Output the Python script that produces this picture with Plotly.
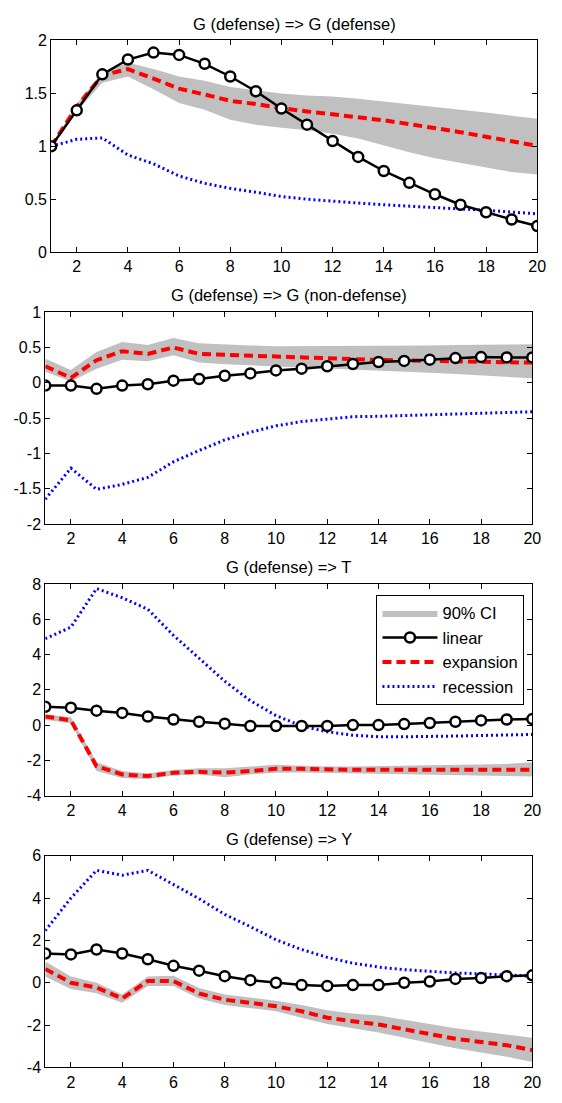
import plotly.graph_objects as go

W, H = 562, 1103
horizon = list(range(1, 21))

titles = ["G (defense) => G (defense)", "G (defense) => G (non-defense)",
          "G (defense) => T", "G (defense) => Y"]

# Panel 1: G (defense) => G (defense)
p1_linear = [1.0, 1.34, 1.68, 1.82, 1.886, 1.864, 1.78, 1.66, 1.52, 1.357,
             1.205, 1.05, 0.90, 0.767, 0.655, 0.547, 0.448, 0.377, 0.309, 0.247]
p1_expansion = [1.0, 1.375, 1.67, 1.73, 1.64, 1.545, 1.49, 1.43, 1.40, 1.36,
                1.33, 1.305, 1.277, 1.246, 1.21, 1.175, 1.134, 1.09, 1.05, 1.005]
p1_upper = [1.0, 1.40, 1.70, 1.79, 1.73, 1.66, 1.62, 1.56, 1.53, 1.50,
            1.48, 1.47, 1.45, 1.425, 1.40, 1.375, 1.345, 1.32, 1.29, 1.26]
p1_lower = [1.0, 1.33, 1.60, 1.66, 1.54, 1.41, 1.345, 1.25, 1.205, 1.175,
            1.153, 1.12, 1.073, 1.005, 0.943, 0.887, 0.844, 0.80, 0.757, 0.733]
p1_recession = [1.0, 1.066, 1.08, 0.918, 0.835, 0.72, 0.65, 0.603, 0.566, 0.526,
                0.50, 0.48, 0.464, 0.448, 0.433, 0.417, 0.408, 0.396, 0.38, 0.362]

# Panel 2: G (defense) => G (non-defense)
p2_linear = [-0.04, -0.04, -0.085, -0.04, -0.02, 0.03, 0.054, 0.10, 0.133, 0.175,
             0.20, 0.235, 0.267, 0.295, 0.31, 0.328, 0.35, 0.365, 0.36, 0.36]
p2_expansion = [0.235, 0.07, 0.32, 0.448, 0.41, 0.50, 0.41, 0.397, 0.39, 0.375,
                0.355, 0.34, 0.333, 0.323, 0.318, 0.314, 0.305, 0.30, 0.295, 0.286]
p2_upper = [0.34, 0.18, 0.435, 0.58, 0.536, 0.634, 0.56, 0.54, 0.53, 0.517,
            0.517, 0.517, 0.517, 0.52, 0.52, 0.527, 0.536, 0.54, 0.545, 0.546]
p2_lower = [0.156, 0.017, 0.20, 0.328, 0.305, 0.39, 0.286, 0.263, 0.25, 0.235,
            0.216, 0.203, 0.19, 0.17, 0.156, 0.142, 0.124, 0.105, 0.087, 0.064]
p2_recession = [-1.65, -1.21, -1.51, -1.44, -1.34, -1.12, -0.96, -0.81, -0.70, -0.61,
                -0.55, -0.51, -0.48, -0.475, -0.465, -0.455, -0.447, -0.437, -0.425, -0.41]

# Panel 3: G (defense) => T
p3_linear = [1.04, 0.99, 0.82, 0.69, 0.49, 0.32, 0.19, 0.08, -0.05, -0.05,
             -0.05, -0.05, 0.0, 0.0, 0.06, 0.12, 0.19, 0.265, 0.32, 0.34]
p3_expansion = [0.49, 0.27, -2.33, -2.80, -2.89, -2.70, -2.65, -2.70, -2.60, -2.48,
                -2.48, -2.52, -2.53, -2.53, -2.53, -2.53, -2.53, -2.53, -2.53, -2.53]
p3_upper = [0.6, 0.45, -2.1, -2.6, -2.75, -2.55, -2.45, -2.45, -2.35, -2.25,
            -2.3, -2.35, -2.35, -2.33, -2.3, -2.3, -2.25, -2.22, -2.2, -2.1]
p3_lower = [0.3, 0.1, -2.6, -3.0, -3.05, -2.85, -2.8, -2.95, -2.8, -2.7,
            -2.68, -2.7, -2.72, -2.75, -2.78, -2.8, -2.82, -2.85, -2.88, -2.92]
p3_recession = [4.9, 5.55, 7.74, 7.22, 6.57, 5.09, 3.79, 2.49, 1.38, 0.54,
                -0.05, -0.38, -0.57, -0.66, -0.66, -0.66, -0.62, -0.59, -0.55, -0.53]

# Panel 4: G (defense) => Y
p4_linear = [1.38, 1.34, 1.57, 1.38, 1.11, 0.80, 0.57, 0.31, 0.12, 0.0,
             -0.11, -0.15, -0.11, -0.11, 0.0, 0.06, 0.18, 0.22, 0.31, 0.35]
p4_expansion = [0.65, 0.0, -0.23, -0.74, 0.08, 0.08, -0.51, -0.80, -0.95, -1.11,
                -1.35, -1.65, -1.82, -1.97, -2.20, -2.43, -2.65, -2.80, -2.95, -3.18]
p4_upper = [1.0, 0.3, 0.0, -0.55, 0.3, 0.33, -0.25, -0.55, -0.7, -0.85,
            -1.05, -1.3, -1.45, -1.55, -1.75, -1.95, -2.15, -2.3, -2.45, -2.6]
p4_lower = [0.3, -0.3, -0.5, -0.95, -0.15, -0.15, -0.75, -1.05, -1.2, -1.35,
            -1.65, -1.95, -2.15, -2.35, -2.6, -2.85, -3.1, -3.3, -3.5, -3.75]
p4_recession = [2.46, 4.0, 5.31, 5.08, 5.31, 4.62, 3.97, 3.23, 2.65, 2.03,
                1.57, 1.2, 0.92, 0.74, 0.62, 0.54, 0.46, 0.42, 0.35, 0.31]

x_ticks = [2, 4, 6, 8, 10, 12, 14, 16, 18, 20]
y_ticks = [[0, 0.5, 1, 1.5, 2],
           [-2, -1.5, -1, -0.5, 0, 0.5, 1],
           [-4, -2, 0, 2, 4, 6, 8],
           [-4, -2, 0, 2, 4, 6]]
y_ranges = [[0, 2], [-2, 1], [-4, 8], [-4, 6]]

panels = [
    (p1_linear, p1_expansion, p1_upper, p1_lower, p1_recession),
    (p2_linear, p2_expansion, p2_upper, p2_lower, p2_recession),
    (p3_linear, p3_expansion, p3_upper, p3_lower, p3_recession),
    (p4_linear, p4_expansion, p4_upper, p4_lower, p4_recession),
]

# layout geometry (pixels)
x_left = [52, 46, 46, 46]
x_right = [546, 541, 541, 541]
y_top = [33, 309, 585, 861]
panel_h = 215

FONT = "Liberation Sans, Arial, sans-serif"
fig = go.Figure()

for i, (lin, exp_, up, lo, rec) in enumerate(panels):
    k = "" if i == 0 else str(i + 1)
    xa, ya = "x" + k, "y" + k
    show = (i == 2)
    fig.add_trace(go.Scatter(
        x=horizon + horizon[::-1], y=up + lo[::-1], xaxis=xa, yaxis=ya,
        fill="toself", fillcolor="rgb(192,192,192)", mode="lines",
        line=dict(width=0, color="rgb(192,192,192)"),
        name="90% CI", showlegend=show, legendrank=1, hoverinfo="skip"))
    fig.add_trace(go.Scatter(
        x=horizon, y=rec, xaxis=xa, yaxis=ya, mode="lines",
        line=dict(color="rgb(0,0,255)", width=3, dash="2px,3px"),
        name="recession", showlegend=show, legendrank=4))
    fig.add_trace(go.Scatter(
        x=horizon, y=exp_, xaxis=xa, yaxis=ya, mode="lines",
        line=dict(color="rgb(255,0,0)", width=4, dash="9px,5px"),
        name="expansion", showlegend=show, legendrank=3))
    fig.add_trace(go.Scatter(
        x=horizon, y=lin, xaxis=xa, yaxis=ya, mode="lines+markers",
        line=dict(color="black", width=2.5),
        marker=dict(symbol="circle", size=10, color="white",
                    line=dict(color="black", width=2.5)),
        name="linear", showlegend=show, legendrank=2))

    dom_x = [x_left[i] / W, x_right[i] / W]
    dom_y = [1 - (y_top[i] + panel_h) / H, 1 - y_top[i] / H]
    fig.update_layout(**{
        "xaxis" + k: dict(
            domain=dom_x, anchor=ya, range=[1, 20],
            tickvals=x_ticks, ticktext=[f"{v:g}" for v in x_ticks],
            ticks="inside", ticklen=5, tickcolor="black", tickwidth=1,
            showline=True, linecolor="black", linewidth=1, mirror="ticks",
            showgrid=False, zeroline=False,
            tickfont=dict(family=FONT, size=16, color="black")),
        "yaxis" + k: dict(
            domain=dom_y, anchor=xa, range=y_ranges[i],
            tickvals=y_ticks[i], ticktext=[f"{v:g}" for v in y_ticks[i]],
            ticks="inside", ticklen=5, tickcolor="black", tickwidth=1,
            showline=True, linecolor="black", linewidth=1, mirror="ticks",
            showgrid=False, zeroline=False,
            tickfont=dict(family=FONT, size=16, color="black")),
    })
    fig.add_annotation(
        x=(dom_x[0] + dom_x[1]) / 2, y=1 - (y_top[i] - 17) / H,
        xref="paper", yref="paper", text=titles[i], showarrow=False,
        xanchor="center", yanchor="middle",
        font=dict(family=FONT, size=16.5, color="black"))

fig.update_layout(
    autosize=True, margin=dict(l=0, r=0, t=0, b=0),
    paper_bgcolor="white", plot_bgcolor="white",
    legend=dict(x=533 / W, y=1 - 596 / H, xanchor="right", yanchor="top",
                bgcolor="white", bordercolor="black", borderwidth=1,
                itemwidth=55, tracegroupgap=0,
                font=dict(family=FONT, size=16.5, color="black")),
)

fig.write_html(
    "out.html",
    config={"displayModeBar": False, "responsive": True},
    default_width="100vw", default_height="100vh",
    post_script=("document.body.style.margin='0';"
                 "document.documentElement.style.overflow='hidden';"
                 "Plotly.Plots.resize(document.getElementById('{plot_id}'));"))
